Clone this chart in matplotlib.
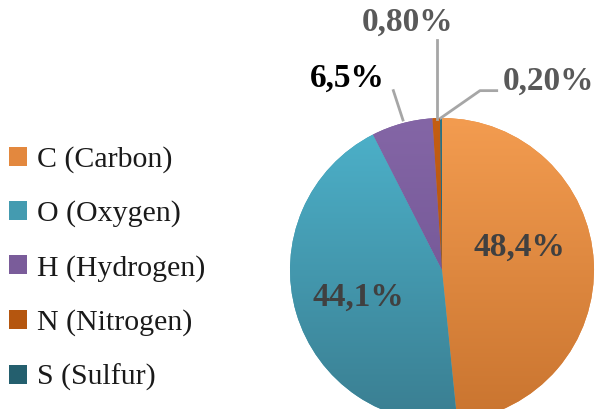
import numpy as np
import matplotlib
matplotlib.use("Agg")
import matplotlib.pyplot as plt
from matplotlib.colors import LinearSegmentedColormap
from matplotlib.patches import Patch

# ---- data ----
elements = ["C (Carbon)", "O (Oxygen)", "H (Hydrogen)", "N (Nitrogen)", "S (Sulfur)"]
shares = [48.4, 44.1, 6.5, 0.8, 0.2]
pct_labels = ["48,4%", "44,1%", "6,5%", "0,80%", "0,20%"]

# ---- style ----
top_colors = ["#F39C50", "#4DB2CB", "#8466A6", "#C55E12", "#2A7385"]
bot_colors = ["#C9742F", "#3A7E91", "#6A4E8C", "#A54B0C", "#1F5563"]
mid_colors = ["#E3883E", "#449BB0", "#7A5C9A", "#B5560F", "#245F6E"]

plt.rcParams["font.family"] = ["Liberation Serif", "DejaVu Serif"]

W, H = 596, 409
fig = plt.figure(figsize=(W / 100, H / 100), dpi=100)
ax = fig.add_axes([0, 0, 1, 1])
cx, cy, R = 442, 270, 152  # pixel center / radius
ax.axis("off")

wedges, _ = ax.pie(shares, startangle=90, counterclock=False, radius=1,
                   colors=mid_colors, wedgeprops=dict(linewidth=0),
                   normalize=True)

# vertical gradient fills, clipped to each wedge
grad = np.linspace(0, 1, 256).reshape(-1, 1)
for w, ct, cb in zip(wedges, top_colors, bot_colors):
    cmap = LinearSegmentedColormap.from_list("g", [cb, ct])
    im = ax.imshow(grad, extent=(-1, 1, -1, 1), origin="lower", cmap=cmap,
                   aspect="auto", zorder=w.get_zorder() + 0.1)
    im.set_clip_path(w)
ax.set_xlim(-cx / R, (W - cx) / R)
ax.set_ylim(-(H - cy) / R, cy / R)

# labels
lab_pos = [(0.51, 0.15), (-0.55, -0.18), (-0.625, 1.26), (-0.224, 1.63), (0.70, 1.24)]
lab_col = ["#404040", "#404040", "#000000", "#595959", "#595959"]
for t, (x, y), c in zip(pct_labels, lab_pos, lab_col):
    ax.text(x, y, t, ha="center", va="center", fontsize=24, fontweight="bold",
            color=c, zorder=10)

# leader lines
leaders = [
    [(-0.32, 1.18), (-0.257, 0.987)],
    [(-0.033, 1.51), (-0.033, 0.995)],
    [(0.36, 1.18), (0.25, 1.18), (-0.008, 1.0)],
]
for pts in leaders:
    xs, ys = zip(*pts)
    ax.plot(xs, ys, color="#A6A6A6", lw=2, clip_on=False, zorder=9)

# legend
handles = [Patch(facecolor=c, edgecolor="none") for c in mid_colors]
leg = fig.legend(handles, elements, loc="upper left",
                 bbox_to_anchor=(0.0, 1 - 137 / H), frameon=False,
                 fontsize=21.5, labelspacing=0.92, handlelength=0.6,
                 handleheight=0.6, handletextpad=0.35, borderaxespad=0,
                 borderpad=0.3)
for t in leg.get_texts():
    t.set_color("#1A1A1A")

fig.savefig("out.png", dpi=100)
